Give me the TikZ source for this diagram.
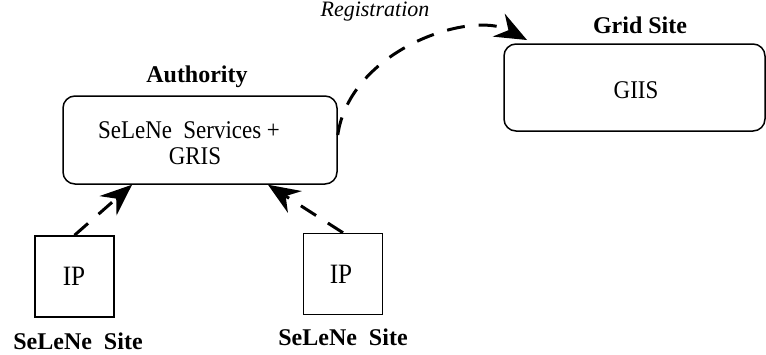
\documentclass[tikz,border=0pt]{standalone}
\usepackage{fontspec}
\setmainfont{Liberation Serif}
\newfontfamily\condfont[FakeStretch=0.9]{Liberation Serif}
\usetikzlibrary{arrows.meta}
\begin{document}
\begin{tikzpicture}[x=1pt,y=-1pt,
  rbox/.style={draw,line width=1.5pt,rounded corners=12pt,inner sep=0pt},
  sbox/.style={draw,line width=1.5pt,inner sep=0pt,minimum width=79pt,minimum height=81pt},
  txt/.style={inner sep=0pt,font=\condfont\fontsize{25.5}{29}\selectfont},
  iptxt/.style={inner sep=0pt,font=\condfont\fontsize{28}{32}\selectfont},
  btxt/.style={inner sep=0pt,font=\fontsize{24}{28}\selectfont\bfseries},
  itxt/.style={inner sep=0pt,font=\fontsize{22}{26}\selectfont\itshape},
  dconn/.style={line width=3pt,dash pattern=on 18pt off 14pt,
    -{Stealth[length=32pt,width=26pt,inset=11pt,line width=0pt]}}]
\useasboundingbox (0,0) rectangle (766,354);
% boxes
\node[rbox,minimum width=274pt,minimum height=88pt] (auth) at (200,140) {};
\node[rbox,minimum width=261pt,minimum height=87pt] (grid) at (634.5,87.5) {};
\node[sbox] (ip1) at (74.5,276.5) {};
\node[sbox] (ip2) at (343,274) {};
% labels
\node[btxt] (authl) at (197,77) {Authority};
\node[btxt] (gridl) at (640,25) {Grid Site};
\node[txt] (serv) at (189,130) {SeLeNe\ \ Services +};
\node[txt] (gris) at (195,156) {GRIS};
\node[txt] (giis) at (636,90) {GIIS};
\node[iptxt] (ipt1) at (74,276) {IP};
\node[iptxt] (ipt2) at (341,274) {IP};
\node[btxt] (site1) at (78,341) {SeLeNe\ \ Site};
\node[btxt] (site2) at (343,337) {SeLeNe\ \ Site};
\node[itxt] (reg) at (375,12) {Registration};
% connectors
\coordinate (regend) at (527,40);
\draw[dconn] (ip1.north) -- ([xshift=-68pt]auth.south);
\draw[dconn] (ip2.north) -- ([xshift=68pt]auth.south);
\draw[dconn] ([yshift=5pt]auth.east) .. controls (350,50) and (470,10) .. (regend);
\end{tikzpicture}
\end{document}
